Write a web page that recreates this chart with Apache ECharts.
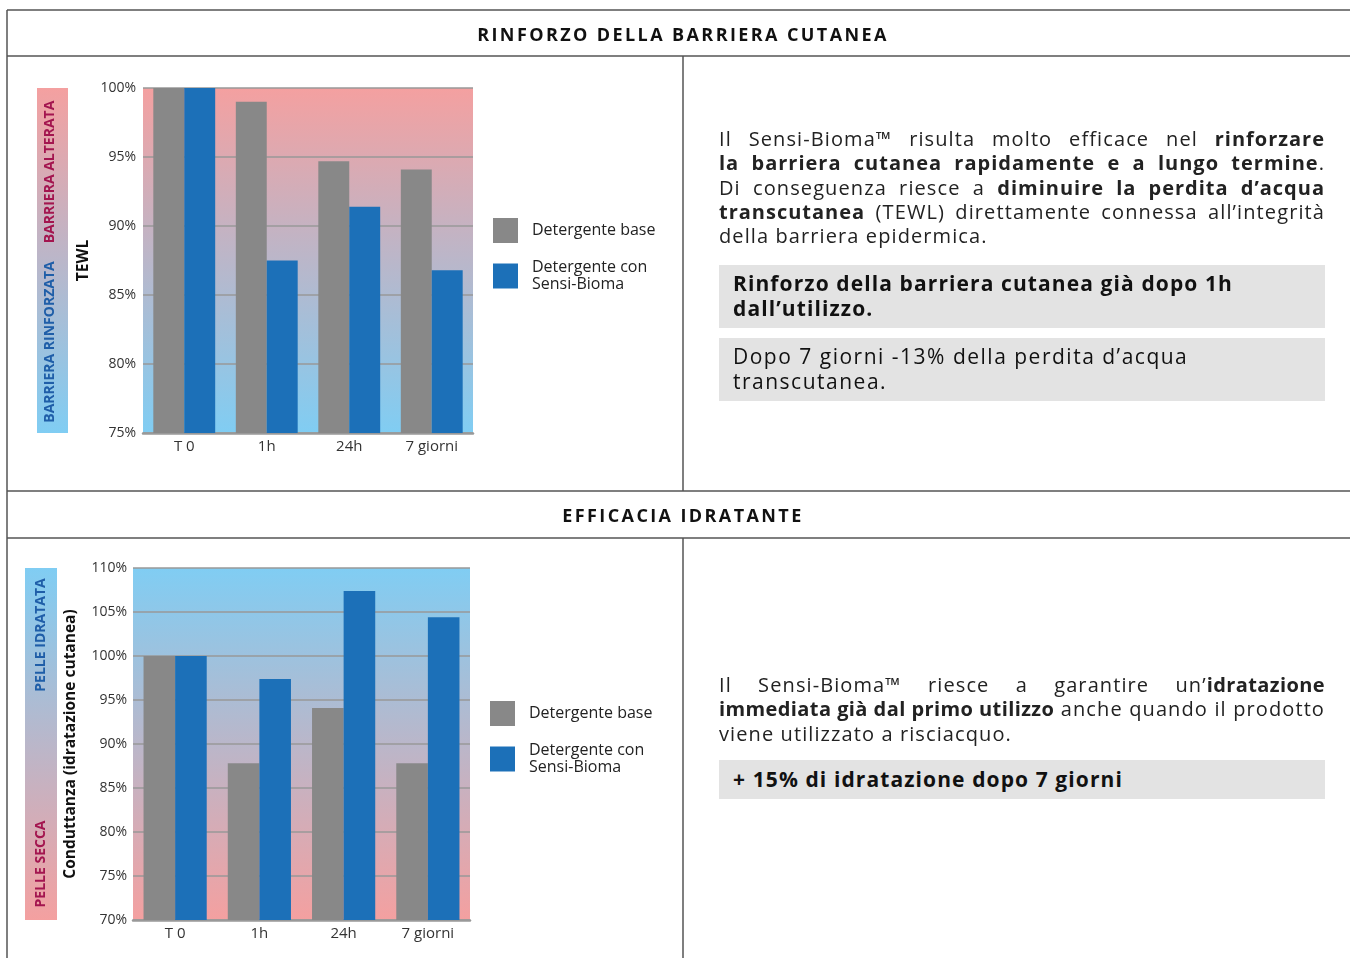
<!DOCTYPE html>
<html>
<head>
<meta charset="utf-8">
<script src="https://cdn.jsdelivr.net/npm/echarts@6/dist/echarts.min.js"></script>
<style>
  html, body { margin: 0; padding: 0; background: #fff; }
  #wrap { position: relative; width: 1350px; height: 958px; overflow: hidden; }
  #chart { position: absolute; left: 0; top: 0; width: 1350px; height: 958px; }
  .txt { position: absolute; font-family: "Open Sans", sans-serif; color: #222; font-size: 20px; line-height: 24.3px; letter-spacing: 1.1px; }
  .txt .ln { text-align: justify; text-align-last: justify; white-space: nowrap; }
  .txt .ln.last { text-align-last: left; }
  .txt b { letter-spacing: 1.0px; }
  .txt.p2 b { letter-spacing: 0.4px; }
  .box { position: absolute; background: #e3e3e3; font-family: "Open Sans", sans-serif; color: #111; font-size: 21px; line-height: 25px; padding: 0 14px; box-sizing: border-box; letter-spacing: 1.5px; }
  .box.bold { font-weight: 700; letter-spacing: 1.1px; }
  .hdr { position: absolute; left: 7px; width: 1352px; text-align: center; font-family: "Open Sans", sans-serif; font-weight: 700; font-size: 18px; letter-spacing: 2.4px; color: #111; line-height: 24px; }
  b { font-weight: 700; }
</style>
</head>
<body>
<div id="wrap">
  <div id="chart"></div>
  <div class="hdr" id="hdrTop" style="top:22px;"></div>
  <div class="hdr" id="hdrBottom" style="top:503px;"></div>
  <div class="txt" style="left:719px; top:127px; width:606px;">
    <div class="ln">Il Sensi-Bioma™ risulta molto efficace nel <b>rinforzare</b></div>
    <div class="ln"><b>la barriera cutanea rapidamente e a lungo termine</b>.</div>
    <div class="ln">Di conseguenza riesce a <b>diminuire la perdita d’acqua</b></div>
    <div class="ln"><b>transcutanea</b> (TEWL) direttamente connessa all’integrità</div>
    <div class="ln last">della barriera epidermica.</div>
  </div>
  <div class="box bold" style="left:719px; top:265px; width:606px; height:63px; padding-top:6px;">Rinforzo della barriera cutanea già dopo 1h<br>dall’utilizzo.</div>
  <div class="box" style="left:719px; top:338px; width:606px; height:63px; padding-top:6px;">Dopo 7 giorni -13% della perdita d’acqua<br>transcutanea.</div>

  <div class="txt p2" style="left:719px; top:673px; width:606px;">
    <div class="ln">Il Sensi-Bioma™ riesce a garantire un’<b>idratazione</b></div>
    <div class="ln"><b>immediata già dal primo utilizzo</b> anche quando il prodotto</div>
    <div class="ln last">viene utilizzato a risciacquo.</div>
  </div>
  <div class="box bold" style="left:719px; top:760px; width:606px; height:39px; padding-top:7px;">+ 15% di idratazione dopo 7 giorni</div>
</div>
<script>
// ---- data ----
const categories = ['T 0', '1h', '24h', '7 giorni'];
const seriesNames = ['Detergente base', 'Detergente con\nSensi-Bioma'];
const tewlBase = [100, 99.0, 94.7, 94.1];
const tewlSensi = [100, 87.5, 91.4, 86.8];
const hydBase = [100, 87.8, 94.1, 87.8];
const hydSensi = [100, 97.4, 107.4, 104.4];
const titleTop = 'RINFORZO DELLA BARRIERA CUTANEA';
const titleBottom = 'EFFICACIA IDRATANTE';
const axisNameTop = 'TEWL';
const axisNameBottom = 'Conduttanza (idratazione cutanea)';

document.getElementById('hdrTop').textContent = titleTop;
document.getElementById('hdrBottom').textContent = titleBottom;

const GRAY = '#888888', BLUE = '#1c70b8';
const PINK = '#f4a0a0', SKY = '#80cdf3';
const FONT = '"Open Sans", sans-serif';
const chart = echarts.init(document.getElementById('chart'));

function grad(c0, c1) {
  return { type: 'linear', x: 0, y: 0, x2: 0, y2: 1, colorStops: [{ offset: 0, color: c0 }, { offset: 1, color: c1 }] };
}
const lineStyle = { stroke: '#555', lineWidth: 1.5 };
function hline(y, x1, x2) { return { type: 'line', shape: { x1: x1, y1: y, x2: x2, y2: y }, style: lineStyle, silent: true }; }
function vline(x, y1, y2) { return { type: 'line', shape: { x1: x, y1: y1, x2: x, y2: y2 }, style: lineStyle, silent: true }; }
function vtext(txt, x, y, color) {
  return { type: 'text', x: x, y: y, rotation: Math.PI / 2,
    style: { text: txt, fill: color, font: 'bold 14px ' + FONT, align: 'center', verticalAlign: 'middle' } };
}

const yAxisCommon = {
  type: 'value', interval: 5,
  axisLine: { show: false }, axisTick: { show: false },
  axisLabel: { formatter: '{value}%', color: '#333', fontSize: 14, fontFamily: FONT },
  splitLine: { lineStyle: { color: '#999', width: 1.5 } },
  nameLocation: 'middle', nameRotate: 90,
  nameTextStyle: { color: '#111', fontWeight: 'bold', fontSize: 15.5, fontFamily: FONT }
};
const xAxisCommon = {
  type: 'category', data: categories,
  axisLine: { lineStyle: { color: '#999', width: 2.5 } }, axisTick: { show: false },
  axisLabel: { color: '#333', fontSize: 15, fontFamily: FONT, margin: 6 }
};
const legendCommon = {
  orient: 'vertical', icon: 'rect', itemWidth: 25, itemHeight: 25, itemGap: 16, padding: 0,
  data: seriesNames, selectedMode: false,
  textStyle: { color: '#222', fontSize: 16, fontFamily: FONT, lineHeight: 17, padding: [0, 0, 0, 9] }
};

chart.setOption({
  animation: false,
  grid: [
    { left: 143, top: 88, width: 330, height: 345, show: true, borderWidth: 0, backgroundColor: grad(PINK, SKY) },
    { left: 133, top: 568, width: 337, height: 352, show: true, borderWidth: 0, backgroundColor: grad(SKY, PINK) }
  ],
  xAxis: [
    Object.assign({ gridIndex: 0 }, xAxisCommon),
    Object.assign({ gridIndex: 1 }, xAxisCommon)
  ],
  yAxis: [
    Object.assign({}, yAxisCommon, { gridIndex: 0, min: 75, max: 100, name: axisNameTop, nameGap: 51,
      axisLabel: Object.assign({}, yAxisCommon.axisLabel, { margin: 7 }) }),
    Object.assign({}, yAxisCommon, { gridIndex: 1, min: 70, max: 110, name: axisNameBottom, nameGap: 54,
      axisLabel: Object.assign({}, yAxisCommon.axisLabel, { margin: 6 }) })
  ],
  legend: [
    Object.assign({ left: 493, top: 218 }, legendCommon),
    Object.assign({ left: 490, top: 701 }, legendCommon)
  ],
  series: [
    { type: 'bar', name: seriesNames[0], xAxisIndex: 0, yAxisIndex: 0, data: tewlBase, itemStyle: { color: GRAY }, barGap: '0%', barCategoryGap: '25%' },
    { type: 'bar', name: seriesNames[1], xAxisIndex: 0, yAxisIndex: 0, data: tewlSensi, itemStyle: { color: BLUE }, barGap: '0%', barCategoryGap: '25%' },
    { type: 'bar', name: seriesNames[0], xAxisIndex: 1, yAxisIndex: 1, data: hydBase, itemStyle: { color: GRAY }, barGap: '0%', barCategoryGap: '25%' },
    { type: 'bar', name: seriesNames[1], xAxisIndex: 1, yAxisIndex: 1, data: hydSensi, itemStyle: { color: BLUE }, barGap: '0%', barCategoryGap: '25%' }
  ],
  graphic: [
    hline(10, 7, 1350), hline(56, 7, 1350), hline(491, 7, 1350), hline(538, 7, 1350),
    vline(7, 10, 958), vline(683, 56, 491), vline(683, 538, 958),
    { type: 'rect', shape: { x: 37, y: 88, width: 31, height: 345 }, style: { fill: grad(PINK, SKY) }, silent: true },
    vtext('BARRIERA ALTERATA', 50, 172, '#a3154f'),
    vtext('BARRIERA RINFORZATA', 50, 342, '#1f5ea8'),
    { type: 'rect', shape: { x: 25, y: 568, width: 32, height: 352 }, style: { fill: grad(SKY, PINK) }, silent: true },
    vtext('PELLE IDRATATA', 41, 635, '#1f5ea8'),
    vtext('PELLE SECCA', 41, 864, '#a3154f')
  ]
});
</script>
</body>
</html>
